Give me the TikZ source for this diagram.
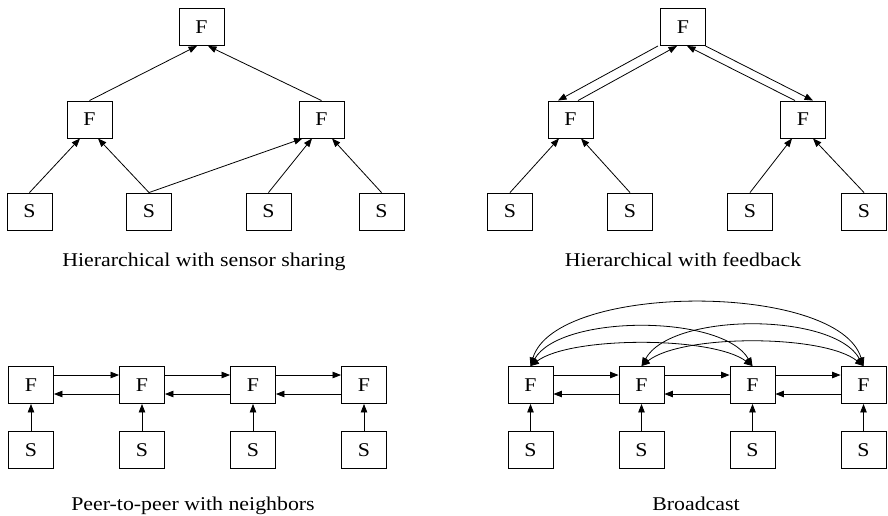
\documentclass[tikz,border=0pt]{standalone}
\usepackage{fontspec}
\setmainfont{Liberation Serif}[FakeStretch=1.12]
\usetikzlibrary{arrows.meta}
\begin{document}
\begin{tikzpicture}[x=1pt,y=-1pt,
  box/.style={draw, line width=0.9pt, minimum width=45pt, minimum height=37pt, inner sep=0pt,
              font=\fontsize{19.5}{22}\selectfont},
  caption/.style={anchor=base, font=\fontsize{19.5}{22}\selectfont},
  link/.style={line width=0.8pt, -{Triangle[length=8.5pt,width=6.5pt]}},
  dlink/.style={line width=0.8pt, {Triangle[length=8.5pt,width=6.5pt]}-{Triangle[length=8.5pt,width=6.5pt]}}]
\useasboundingbox (0,0) rectangle (888,515);

% ---------- hierarchical with sensor sharing ----------
\node[box] (aT) at (201.5,27) {F};
\node[box] (aL) at (89.5,119.5) {F};
\node[box] (aR) at (321.5,119.5) {F};
\node[box] (aS1) at (29.5,211.5) {S};
\node[box] (aS2) at (149,211.5) {S};
\node[box] (aS3) at (268.5,211.5) {S};
\node[box] (aS4) at (381.5,211.5) {S};
\draw[link] (aS1.north) -- ([xshift=-9.5pt]aL.south);
\draw[link] (aS2.north) -- ([xshift=8.5pt]aL.south);
\draw[link] (aS2.north) -- ([xshift=-19pt]aR.south);
\draw[link] (aS3.north) -- ([xshift=-9.5pt]aR.south);
\draw[link] (aS4.north) -- ([xshift=10.5pt]aR.south);
\draw[link] (aL.north) -- ([xshift=-4.5pt]aT.south);
\draw[link] (aR.north) -- ([xshift=6.5pt]aT.south);
\node[caption] (capA) at (204,266) {Hierarchical with sensor sharing};

% ---------- hierarchical with feedback ----------
\node[box] (bT) at (683,27) {F};
\node[box] (bL) at (570.5,119.5) {F};
\node[box] (bR) at (803,119.5) {F};
\node[box] (bS1) at (510,211.5) {S};
\node[box] (bS2) at (630,211.5) {S};
\node[box] (bS3) at (750,211.5) {S};
\node[box] (bS4) at (864,211.5) {S};
\draw[link] (bS1.north) -- ([xshift=-11.5pt]bL.south);
\draw[link] (bS2.north) -- ([xshift=10.5pt]bL.south);
\draw[link] (bS3.north) -- ([xshift=-11pt]bR.south);
\draw[link] (bS4.north) -- ([xshift=10pt]bR.south);
\draw[link] ([xshift=-25pt]bT.south) -- ([xshift=-12.5pt]bL.north);
\draw[link] ([xshift=7.5pt]bL.north) -- ([xshift=-6pt]bT.south);
\draw[link] ([xshift=-8pt]bR.north) -- ([xshift=4pt]bT.south);
\draw[link] ([xshift=22.5pt]bT.south) -- ([xshift=10pt]bR.north);
\node[caption] (capB) at (683,266) {Hierarchical with feedback};

% ---------- peer-to-peer with neighbours ----------
\foreach \i/\x in {1/31,2/142,3/253,4/364}{
  \node[box] (cF\i) at (\x,385) {F};
  \node[box] (cS\i) at (\x,450) {S};
  \draw[link] (cS\i.north) -- (cF\i.south);
}
\foreach \i/\j in {1/2,2/3,3/4}{
  \draw[link] ([yshift=10pt]cF\i.east) -- ([yshift=10pt]cF\j.west);
  \draw[link] ([yshift=-9pt]cF\j.west) -- ([yshift=-9pt]cF\i.east);
}
\node[caption] (capC) at (193,510) {Peer-to-peer with neighbors};

% ---------- broadcast ----------
\foreach \i/\x in {1/530.5,2/641.5,3/752.5,4/863.5}{
  \node[box] (dF\i) at (\x,385) {F};
  \node[box] (dS\i) at (\x,450) {S};
  \draw[link] (dS\i.north) -- (dF\i.south);
}
\foreach \i/\j in {1/2,2/3,3/4}{
  \draw[link] ([yshift=10pt]dF\i.east) -- ([yshift=10pt]dF\j.west);
  \draw[link] ([yshift=-9pt]dF\j.west) -- ([yshift=-9pt]dF\i.east);
}
% long-range links drawn as arcs above the row
\draw[dlink] (dF1.north) .. controls +(25,-84) and +(-25,-84) .. (dF4.north);
\draw[dlink] (dF1.north) .. controls +(30,-52) and +(-30,-52) .. (dF3.north);
\draw[dlink] (dF1.north) .. controls +(40,-30) and +(-40,-30) .. (dF3.north);
\draw[dlink] (dF2.north) .. controls +(30,-54) and +(-30,-54) .. (dF4.north);
\draw[dlink] (dF2.north) .. controls +(40,-32) and +(-40,-32) .. (dF4.north);
\node[caption] (capD) at (696,510) {Broadcast};
\end{tikzpicture}
\end{document}
